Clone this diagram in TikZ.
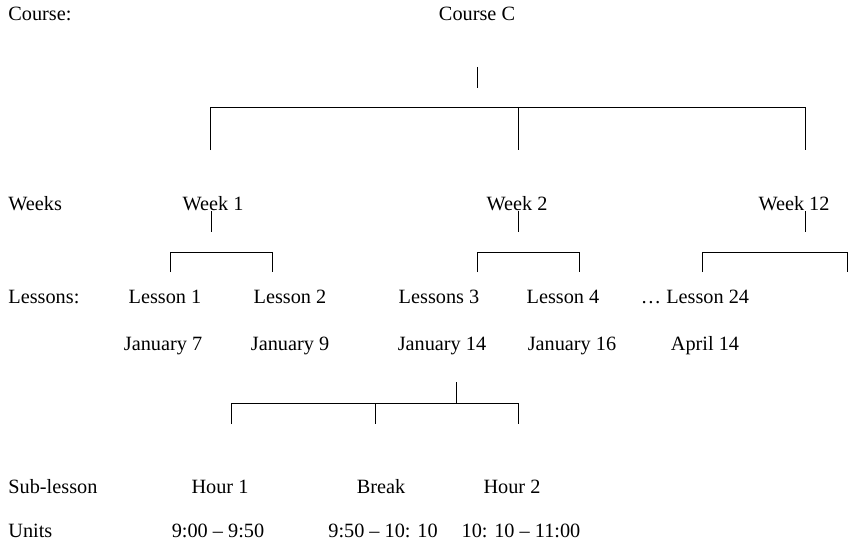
\documentclass[tikz,border=0pt,12pt]{standalone}
\usepackage{fontspec}
\setmainfont{Liberation Serif}
\usetikzlibrary{calc}

\begin{document}
\begin{tikzpicture}[x=0.0208cm,y=-0.0208cm,line width=0.5pt,
  every node/.style={inner sep=0pt,anchor=base},
  rowlabel/.style={anchor=base west}]
  \useasboundingbox (0,0) rectangle (848,542);
  % row labels
  \node[rowlabel] (lcourse) at (8,21) {Course:};
  \node[rowlabel] (lweeks) at (8,210) {Weeks};
  \node[rowlabel] (llessons) at (8,303) {Lessons:};
  \node[rowlabel] (lsub) at (8,493) {Sub-lesson};
  \node[rowlabel] (lunits) at (8,537) {Units};
  % course and weeks
  \node (course) at (477,21) {Course C};
  \node (wk1) at (213,210) {Week 1};
  \node (wk2) at (517,210) {Week 2};
  \node (wk12) at (794,210) {Week 12};
  % lessons and dates
  \node (ls1) at (165,303) {Lesson 1};
  \node (ls2) at (290,303) {Lesson 2};
  \node (ls3) at (439,303) {Lessons 3};
  \node (ls4) at (563,303) {Lesson 4};
  \node (ls24) at (695,303) {\ldots{} Lesson 24};
  \node (d1) at (163,350) {January 7};
  \node (d2) at (290,350) {January 9};
  \node (d3) at (442,350) {January 14};
  \node (d4) at (572,350) {January 16};
  \node (d24) at (705,350) {April 14};
  % sub-lessons and units
  \node (hr1) at (220,493) {Hour 1};
  \node (brk) at (381,493) {Break};
  \node (hr2) at (512,493) {Hour 2};
  \node (u1) at (218,537) {9:00 -- 9:50};
  \node (u2) at (383,537) {9:50 -- 10: 10};
  \node (u3) at (521,537) {10: 10 -- 11:00};

  % course -> weeks
  \coordinate (cs) at (477,67);
  \draw (cs) -- ++(0,21);
  \coordinate (cbl) at (210,107);
  \coordinate (cbm) at (518,107);
  \coordinate (cbr) at (805,107);
  \draw (cbl) ++(0,43) -- (cbl) -- (cbr) -- ++(0,43);
  \draw (cbm) -- ++(0,43);

  % weeks -> lessons
  \coordinate (ws1) at (211,211);
  \coordinate (ws2) at (518,211);
  \coordinate (ws12) at (805,211);
  \foreach \s in {ws1,ws2,ws12}
    \draw (\s) -- ++(0,21);
  \coordinate (wb1l) at (170,252); \coordinate (wb1r) at (272,252);
  \coordinate (wb2l) at (477,252); \coordinate (wb2r) at (579,252);
  \coordinate (wb12l) at (702,252); \coordinate (wb12r) at (847,252);
  \foreach \l/\r in {wb1l/wb1r,wb2l/wb2r,wb12l/wb12r}
    \draw (\l) ++(0,20) -- (\l) -- (\r) -- ++(0,20);

  % lesson 3 -> sub-lessons
  \coordinate (ss) at (456,382);
  \draw (ss) -- ++(0,21);
  \coordinate (sbl) at (231,403);
  \coordinate (sbm) at (375,403);
  \coordinate (sbr) at (518,403);
  \draw (sbl) ++(0,21) -- (sbl) -- (sbr) -- ++(0,21);
  \draw (sbm) -- ++(0,21);
\end{tikzpicture}
\end{document}
